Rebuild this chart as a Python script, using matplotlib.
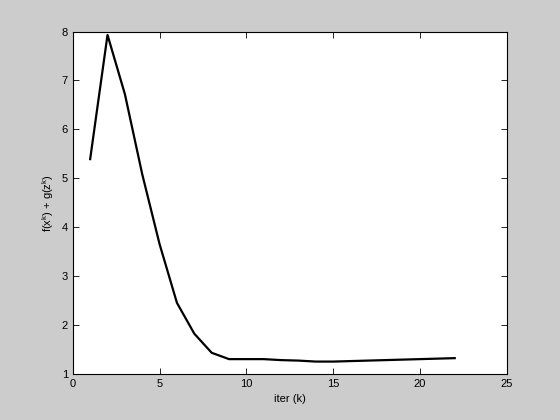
import numpy as np
import matplotlib
matplotlib.use('Agg')
import matplotlib.pyplot as plt

plt.rcParams['font.family'] = ['Liberation Sans', 'DejaVu Sans']
plt.rcParams['mathtext.fontset'] = 'custom'
plt.rcParams['mathtext.rm'] = 'Liberation Sans'
plt.rcParams['mathtext.it'] = 'Liberation Sans'

iters = list(range(1, 23))
obj = [5.39, 7.93, 6.72, 5.08, 3.65, 2.45, 1.82, 1.43, 1.30, 1.30, 1.30, 1.28,
       1.27, 1.25, 1.25, 1.26, 1.27, 1.28, 1.29, 1.30, 1.31, 1.32]

fig = plt.figure(figsize=(5.6, 4.2), dpi=100, facecolor='#cccccc')
ax = fig.add_axes([0.13, 0.11, 0.775, 0.815])
ax.plot(iters, obj, color='black', linewidth=1.6)

ax.set_xlim(0, 25)
ax.set_ylim(1, 8)
ax.set_xticks([0, 5, 10, 15, 20, 25])
ax.set_yticks(range(1, 9))
ax.tick_params(direction='in', top=True, right=True, labelsize=8, length=4, width=0.6)
for s in ax.spines.values():
    s.set_linewidth(0.8)
ax.set_xlabel('iter (k)', fontsize=8)
ax.set_ylabel(r'f(x$^{\rm k}$) + g(z$^{\rm k}$)', fontsize=8)

fig.savefig('out.png', dpi=100, facecolor=fig.get_facecolor())
